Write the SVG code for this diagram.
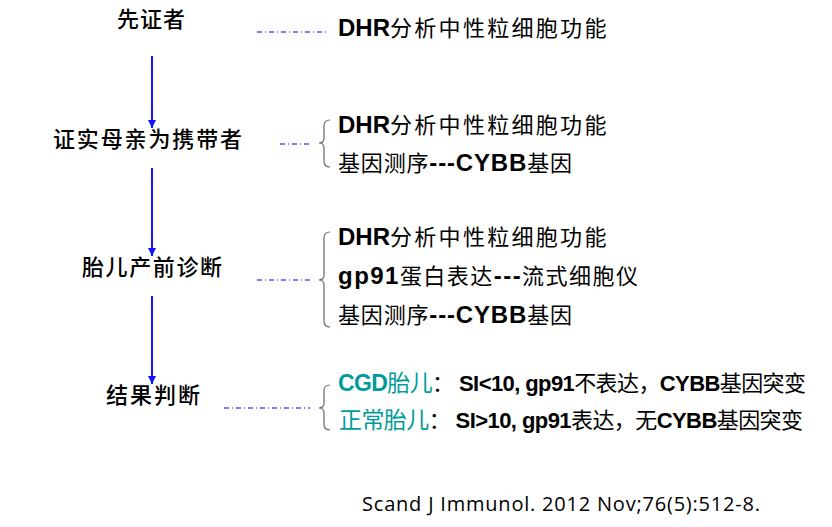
<svg xmlns="http://www.w3.org/2000/svg" width="832" height="527" viewBox="0 0 832 527">
<style>
.lbl{font-family:"Noto Sans CJK SC","Liberation Sans",sans-serif;font-size:22px;font-weight:500;fill:#000;}
.it{font-family:"Liberation Sans","Noto Sans CJK SC",sans-serif;font-size:22px;fill:#000;}
.b{font-weight:bold;}
.b24{font-weight:bold;font-size:24px;}
.cj{letter-spacing:2.3px;}
.teal{fill:#009B9B;}
.dash{stroke:#0000FF;stroke-width:1;stroke-dasharray:5 3 1 3;fill:none;}
.brace{stroke:#666;stroke-width:1.2;fill:none;}
.arr{stroke:#1010FF;stroke-width:2;fill:none;}
.cite{font-family:"Open Sans","Liberation Sans",sans-serif;font-size:20px;fill:#000;}
</style>
<defs>
<marker id="ah" markerUnits="userSpaceOnUse" markerWidth="10" markerHeight="8" refX="8" refY="4" orient="auto">
<path d="M0,0 L8,4 L0,8 Z" fill="#1010FF"/>
</marker>
</defs>
<rect width="832" height="527" fill="#fff"/>

<g id="connectors">
<line class="arr" x1="152" y1="56" x2="152" y2="128" marker-end="url(#ah)"/>
<line class="arr" x1="152" y1="168" x2="152" y2="256" marker-end="url(#ah)"/>
<line class="arr" x1="152" y1="296" x2="152" y2="384" marker-end="url(#ah)"/>
<line class="dash" x1="257" y1="32" x2="326" y2="32"/>
<line class="dash" x1="280" y1="144" x2="311" y2="144"/>
<line class="dash" x1="257" y1="280" x2="312" y2="280"/>
<line class="dash" x1="224" y1="408" x2="310" y2="408"/>
</g>

<g id="node1">
<text class="lbl" x="117" y="27" textLength="68">先证者</text>
<text class="it" x="338" y="36"><tspan class="b24">DHR</tspan><tspan class="cj">分析中性粒细胞功能</tspan></text>
</g>

<g id="node2">
<text class="lbl" x="53" y="147" textLength="189">证实母亲为携带者</text>
<path class="brace" d="M330,120 Q324,120 324,126 L324,138 Q324,143 319,143 Q324,143 324,148 L324,161 Q324,167 330,167"/>
<text class="it" x="338" y="133"><tspan class="b24">DHR</tspan><tspan class="cj">分析中性粒细胞功能</tspan></text>
<text class="it" x="338" y="171" textLength="234">基因测序<tspan class="b24">---CYBB</tspan>基因</text>
</g>

<g id="node3">
<text class="lbl" x="82" y="275" textLength="140">胎儿产前诊断</text>
<path class="brace" d="M330,232 Q324,232 324,238 L324,275 Q324,280 319,280 Q324,280 324,285 L324,321 Q324,327 330,327"/>
<text class="it" x="338" y="245"><tspan class="b24">DHR</tspan><tspan class="cj">分析中性粒细胞功能</tspan></text>
<text class="it" x="338" y="284" textLength="300" font-size="23"><tspan class="b24">gp91</tspan>蛋白表达<tspan class="b24">---</tspan>流式细胞仪</text>
<text class="it" x="338" y="323" textLength="234">基因测序<tspan class="b24">---CYBB</tspan>基因</text>
</g>

<g id="node4">
<text class="lbl" x="106" y="403" textLength="94">结果判断</text>
<path class="brace" d="M330,385 Q324,385 324,391 L324,403 Q324,408 319,408 Q324,408 324,413 L324,424 Q324,430 330,430"/>
<text class="it" x="338" y="391" textLength="468"><tspan class="b teal" font-size="23">CGD</tspan><tspan class="teal" font-size="23">胎儿</tspan>： <tspan class="b">SI&lt;10, gp91</tspan>不表达，<tspan class="b">CYBB</tspan>基因突变</text>
<text class="it" x="339" y="428" textLength="464"><tspan class="teal" font-size="23">正常胎儿</tspan>： <tspan class="b">SI&gt;10, gp91</tspan>表达，无<tspan class="b">CYBB</tspan>基因突变</text>
</g>

<text class="cite" x="362" y="511" textLength="398">Scand J Immunol. 2012 Nov;76(5):512-8.</text>
</svg>
